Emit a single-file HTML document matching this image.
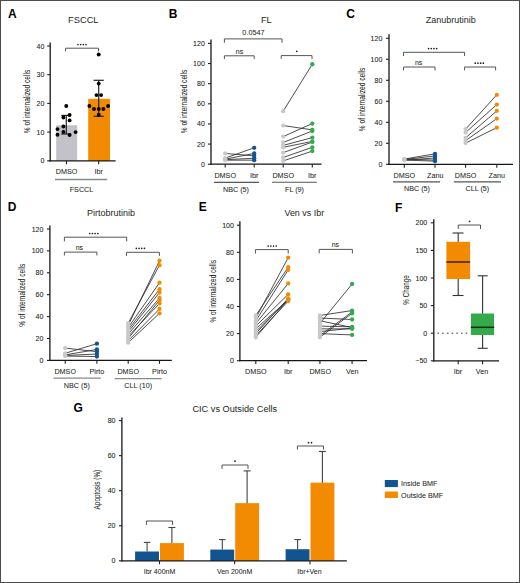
<!DOCTYPE html>
<html><head><meta charset="utf-8"><style>
html,body{margin:0;padding:0;background:#fff;}
body{width:520px;height:583px;overflow:hidden;position:relative;}
svg{position:absolute;left:0;top:0;font-family:"Liberation Sans", sans-serif;}
.frame{position:absolute;left:0;top:0;width:518px;height:581px;border:1px solid #4d4d4d;}
</style></head><body>
<svg width="520" height="583" viewBox="0 0 520 583">
<text transform="translate(8,18.3) scale(0.9259,1)" x="0" y="0" font-size="12.96" text-anchor="start" fill="#000" font-weight="bold">A</text>
<text transform="translate(83.3,23.1) scale(1.0000,1)" x="0" y="0" font-size="9.3" text-anchor="middle" fill="#231f20" font-weight="normal">FSCCL</text>
<text transform="translate(29.9,101.5) rotate(-90)" x="0" y="0" font-size="8.4" text-anchor="middle" fill="#231f20" font-weight="normal" stroke="#231f20" stroke-width="0.05" textLength="63.3" lengthAdjust="spacingAndGlyphs">% of internalized cells</text>
<rect x="56.2" y="125.21" width="21" height="35.59" fill="#c3c2c8"/>
<rect x="88.2" y="98.81" width="21.8" height="61.99" fill="#f38b02"/>
<line x1="50.2" y1="42.5" x2="50.2" y2="161.45" stroke="#161616" stroke-width="1.3" />
<line x1="47.2" y1="160.8" x2="50.2" y2="160.8" stroke="#231f20" stroke-width="1.1" />
<text transform="translate(44.4,163.3) scale(1.0000,1)" x="0" y="0" font-size="7" text-anchor="end" fill="#231f20" font-weight="normal" stroke="#231f20" stroke-width="0.08">0</text>
<line x1="47.2" y1="132.1" x2="50.2" y2="132.1" stroke="#231f20" stroke-width="1.1" />
<text transform="translate(44.4,134.6) scale(1.0000,1)" x="0" y="0" font-size="7" text-anchor="end" fill="#231f20" font-weight="normal" stroke="#231f20" stroke-width="0.08">10</text>
<line x1="47.2" y1="103.4" x2="50.2" y2="103.4" stroke="#231f20" stroke-width="1.1" />
<text transform="translate(44.4,105.9) scale(1.0000,1)" x="0" y="0" font-size="7" text-anchor="end" fill="#231f20" font-weight="normal" stroke="#231f20" stroke-width="0.08">20</text>
<line x1="47.2" y1="74.7" x2="50.2" y2="74.7" stroke="#231f20" stroke-width="1.1" />
<text transform="translate(44.4,77.2) scale(1.0000,1)" x="0" y="0" font-size="7" text-anchor="end" fill="#231f20" font-weight="normal" stroke="#231f20" stroke-width="0.08">30</text>
<line x1="47.2" y1="46" x2="50.2" y2="46" stroke="#231f20" stroke-width="1.1" />
<text transform="translate(44.4,48.5) scale(1.0000,1)" x="0" y="0" font-size="7" text-anchor="end" fill="#231f20" font-weight="normal" stroke="#231f20" stroke-width="0.08">40</text>
<line x1="49.55" y1="160.8" x2="115.6" y2="160.8" stroke="#161616" stroke-width="1.3" />
<line x1="66.5" y1="160.8" x2="66.5" y2="164.2" stroke="#231f20" stroke-width="1.1" />
<line x1="98.7" y1="160.8" x2="98.7" y2="164.2" stroke="#231f20" stroke-width="1.1" />
<line x1="66.3" y1="115.4" x2="66.3" y2="134" stroke="#222" stroke-width="1.2" />
<line x1="61.3" y1="115.4" x2="70.8" y2="115.4" stroke="#222" stroke-width="1.2" />
<line x1="61.3" y1="134" x2="70.8" y2="134" stroke="#222" stroke-width="1.2" />
<line x1="98.7" y1="80.3" x2="98.7" y2="116.3" stroke="#222" stroke-width="1.2" />
<line x1="93.5" y1="80.3" x2="103.8" y2="80.3" stroke="#222" stroke-width="1.2" />
<line x1="93.5" y1="116.3" x2="103.8" y2="116.3" stroke="#222" stroke-width="1.2" />
<circle cx="66.25" cy="106" r="1.95" fill="#000"/>
<circle cx="69.6" cy="115" r="1.95" fill="#000"/>
<circle cx="63.4" cy="117.5" r="1.95" fill="#000"/>
<circle cx="69.6" cy="120.4" r="1.95" fill="#000"/>
<circle cx="63.4" cy="126.5" r="1.95" fill="#000"/>
<circle cx="57.5" cy="129.1" r="1.95" fill="#000"/>
<circle cx="75.6" cy="132.1" r="1.95" fill="#000"/>
<circle cx="63.4" cy="131.9" r="1.95" fill="#000"/>
<circle cx="57.5" cy="134.75" r="1.95" fill="#000"/>
<circle cx="69.6" cy="135" r="1.95" fill="#000"/>
<circle cx="98.7" cy="54.5" r="1.95" fill="#000"/>
<circle cx="98.7" cy="83.6" r="1.95" fill="#000"/>
<circle cx="96.5" cy="95.1" r="1.95" fill="#000"/>
<circle cx="101.1" cy="95.1" r="1.95" fill="#000"/>
<circle cx="89.4" cy="106" r="1.95" fill="#000"/>
<circle cx="94" cy="109" r="1.95" fill="#000"/>
<circle cx="98.75" cy="109" r="1.95" fill="#000"/>
<circle cx="103.4" cy="109" r="1.95" fill="#000"/>
<circle cx="108.1" cy="106" r="1.95" fill="#000"/>
<circle cx="98.75" cy="114.75" r="1.95" fill="#000"/>
<path d="M65.6,51.4 V48.2 H98.5 V51.4" fill="none" stroke="#555" stroke-width="1"/>
<circle cx="77.95" cy="44.5" r="0.85" fill="#222"/>
<circle cx="80.65" cy="44.5" r="0.85" fill="#222"/>
<circle cx="83.35" cy="44.5" r="0.85" fill="#222"/>
<circle cx="86.05" cy="44.5" r="0.85" fill="#222"/>
<text transform="translate(66.5,174.3) scale(0.9524,1)" x="0" y="0" font-size="7.56" text-anchor="middle" fill="#231f20" font-weight="normal" stroke="#231f20" stroke-width="0.05">DMSO</text>
<text transform="translate(98.7,174.3) scale(0.9524,1)" x="0" y="0" font-size="7.56" text-anchor="middle" fill="#231f20" font-weight="normal" stroke="#231f20" stroke-width="0.05">Ibr</text>
<line x1="55" y1="179.5" x2="107.2" y2="179.5" stroke="#8a8a8a" stroke-width="1.3" />
<text transform="translate(81.5,191.8) scale(0.9524,1)" x="0" y="0" font-size="7.56" text-anchor="middle" fill="#231f20" font-weight="normal" stroke="#231f20" stroke-width="0.05">FSCCL</text>
<text transform="translate(168.8,18.3) scale(0.9259,1)" x="0" y="0" font-size="12.96" text-anchor="start" fill="#000" font-weight="bold">B</text>
<text transform="translate(266.3,22.6) scale(1.0000,1)" x="0" y="0" font-size="9.3" text-anchor="middle" fill="#231f20" font-weight="normal">FL</text>
<text transform="translate(186.5,101.5) rotate(-90)" x="0" y="0" font-size="8.4" text-anchor="middle" fill="#231f20" font-weight="normal" stroke="#231f20" stroke-width="0.05" textLength="63.5" lengthAdjust="spacingAndGlyphs">% of internalized cells</text>
<line x1="211" y1="39.4" x2="211" y2="164.85" stroke="#161616" stroke-width="1.3" />
<line x1="208" y1="164.2" x2="211" y2="164.2" stroke="#231f20" stroke-width="1.1" />
<text transform="translate(204.8,166.7) scale(1.0000,1)" x="0" y="0" font-size="7" text-anchor="end" fill="#231f20" font-weight="normal" stroke="#231f20" stroke-width="0.08">0</text>
<line x1="208" y1="144.07" x2="211" y2="144.07" stroke="#231f20" stroke-width="1.1" />
<text transform="translate(204.8,146.57) scale(1.0000,1)" x="0" y="0" font-size="7" text-anchor="end" fill="#231f20" font-weight="normal" stroke="#231f20" stroke-width="0.08">20</text>
<line x1="208" y1="123.93" x2="211" y2="123.93" stroke="#231f20" stroke-width="1.1" />
<text transform="translate(204.8,126.43) scale(1.0000,1)" x="0" y="0" font-size="7" text-anchor="end" fill="#231f20" font-weight="normal" stroke="#231f20" stroke-width="0.08">40</text>
<line x1="208" y1="103.8" x2="211" y2="103.8" stroke="#231f20" stroke-width="1.1" />
<text transform="translate(204.8,106.3) scale(1.0000,1)" x="0" y="0" font-size="7" text-anchor="end" fill="#231f20" font-weight="normal" stroke="#231f20" stroke-width="0.08">60</text>
<line x1="208" y1="83.66" x2="211" y2="83.66" stroke="#231f20" stroke-width="1.1" />
<text transform="translate(204.8,86.16) scale(1.0000,1)" x="0" y="0" font-size="7" text-anchor="end" fill="#231f20" font-weight="normal" stroke="#231f20" stroke-width="0.08">80</text>
<line x1="208" y1="63.53" x2="211" y2="63.53" stroke="#231f20" stroke-width="1.1" />
<text transform="translate(204.8,66.03) scale(1.0000,1)" x="0" y="0" font-size="7" text-anchor="end" fill="#231f20" font-weight="normal" stroke="#231f20" stroke-width="0.08">100</text>
<line x1="208" y1="43.4" x2="211" y2="43.4" stroke="#231f20" stroke-width="1.1" />
<text transform="translate(204.8,45.9) scale(1.0000,1)" x="0" y="0" font-size="7" text-anchor="end" fill="#231f20" font-weight="normal" stroke="#231f20" stroke-width="0.08">120</text>
<line x1="210.35" y1="164.2" x2="321.5" y2="164.2" stroke="#161616" stroke-width="1.3" />
<line x1="225.2" y1="164.2" x2="225.2" y2="167.6" stroke="#231f20" stroke-width="1.1" />
<line x1="254.2" y1="164.2" x2="254.2" y2="167.6" stroke="#231f20" stroke-width="1.1" />
<line x1="283.2" y1="164.2" x2="283.2" y2="167.6" stroke="#231f20" stroke-width="1.1" />
<line x1="312.3" y1="164.2" x2="312.3" y2="167.6" stroke="#231f20" stroke-width="1.1" />
<line x1="225.2" y1="153.43" x2="254.2" y2="155.84" stroke="#2e2e2e" stroke-width="0.85" />
<line x1="225.2" y1="158.16" x2="254.2" y2="147.79" stroke="#2e2e2e" stroke-width="0.85" />
<line x1="225.2" y1="159.17" x2="254.2" y2="153.43" stroke="#2e2e2e" stroke-width="0.85" />
<line x1="225.2" y1="159.67" x2="254.2" y2="158.26" stroke="#2e2e2e" stroke-width="0.85" />
<line x1="225.2" y1="160.17" x2="254.2" y2="160.17" stroke="#2e2e2e" stroke-width="0.85" />
<circle cx="225.2" cy="153.43" r="2.15" fill="#c8c8ca"/>
<circle cx="225.2" cy="158.16" r="2.15" fill="#c8c8ca"/>
<circle cx="225.2" cy="159.17" r="2.15" fill="#c8c8ca"/>
<circle cx="225.2" cy="159.67" r="2.15" fill="#c8c8ca"/>
<circle cx="225.2" cy="160.17" r="2.15" fill="#c8c8ca"/>
<circle cx="254.2" cy="155.84" r="2.15" fill="#12548f"/>
<circle cx="254.2" cy="147.79" r="2.15" fill="#12548f"/>
<circle cx="254.2" cy="153.43" r="2.15" fill="#12548f"/>
<circle cx="254.2" cy="158.26" r="2.15" fill="#12548f"/>
<circle cx="254.2" cy="160.17" r="2.15" fill="#12548f"/>
<line x1="283.2" y1="111.15" x2="312.3" y2="64.23" stroke="#2e2e2e" stroke-width="0.85" />
<line x1="283.2" y1="125.54" x2="312.3" y2="129.87" stroke="#2e2e2e" stroke-width="0.85" />
<line x1="283.2" y1="136.62" x2="312.3" y2="123.53" stroke="#2e2e2e" stroke-width="0.85" />
<line x1="283.2" y1="142.46" x2="312.3" y2="130.98" stroke="#2e2e2e" stroke-width="0.85" />
<line x1="283.2" y1="145.37" x2="312.3" y2="137.62" stroke="#2e2e2e" stroke-width="0.85" />
<line x1="283.2" y1="147.29" x2="312.3" y2="141.45" stroke="#2e2e2e" stroke-width="0.85" />
<line x1="283.2" y1="152.62" x2="312.3" y2="142.05" stroke="#2e2e2e" stroke-width="0.85" />
<line x1="283.2" y1="157.46" x2="312.3" y2="147.29" stroke="#2e2e2e" stroke-width="0.85" />
<line x1="283.2" y1="160.88" x2="312.3" y2="151.11" stroke="#2e2e2e" stroke-width="0.85" />
<circle cx="283.2" cy="111.15" r="2.15" fill="#c8c8ca"/>
<circle cx="283.2" cy="125.54" r="2.15" fill="#c8c8ca"/>
<circle cx="283.2" cy="136.62" r="2.15" fill="#c8c8ca"/>
<circle cx="283.2" cy="142.46" r="2.15" fill="#c8c8ca"/>
<circle cx="283.2" cy="145.37" r="2.15" fill="#c8c8ca"/>
<circle cx="283.2" cy="147.29" r="2.15" fill="#c8c8ca"/>
<circle cx="283.2" cy="152.62" r="2.15" fill="#c8c8ca"/>
<circle cx="283.2" cy="157.46" r="2.15" fill="#c8c8ca"/>
<circle cx="283.2" cy="160.88" r="2.15" fill="#c8c8ca"/>
<circle cx="312.3" cy="64.23" r="2.15" fill="#34aa4a"/>
<circle cx="312.3" cy="129.87" r="2.15" fill="#34aa4a"/>
<circle cx="312.3" cy="123.53" r="2.15" fill="#34aa4a"/>
<circle cx="312.3" cy="130.98" r="2.15" fill="#34aa4a"/>
<circle cx="312.3" cy="137.62" r="2.15" fill="#34aa4a"/>
<circle cx="312.3" cy="141.45" r="2.15" fill="#34aa4a"/>
<circle cx="312.3" cy="142.05" r="2.15" fill="#34aa4a"/>
<circle cx="312.3" cy="147.29" r="2.15" fill="#34aa4a"/>
<circle cx="312.3" cy="151.11" r="2.15" fill="#34aa4a"/>
<path d="M224.4,42.8 V38.9 H282 V42.8" fill="none" stroke="#555" stroke-width="1"/>
<text transform="translate(253.5,34.7) scale(0.9524,1)" x="0" y="0" font-size="7.67" text-anchor="middle" fill="#231f20" font-weight="normal" stroke="#231f20" stroke-width="0.05">0.0547</text>
<path d="M224.4,59 V55.8 H254.2 V59" fill="none" stroke="#555" stroke-width="1"/>
<text transform="translate(239.5,53.6) scale(0.9524,1)" x="0" y="0" font-size="7.35" text-anchor="middle" fill="#231f20" font-weight="normal" stroke="#231f20" stroke-width="0.05">ns</text>
<path d="M281.2,58.9 V55.6 H312 V58.9" fill="none" stroke="#555" stroke-width="1"/>
<circle cx="296.8" cy="51.3" r="0.85" fill="#222"/>
<text transform="translate(225.2,177.7) scale(0.9524,1)" x="0" y="0" font-size="7.56" text-anchor="middle" fill="#231f20" font-weight="normal" stroke="#231f20" stroke-width="0.05">DMSO</text>
<text transform="translate(254.2,177.7) scale(0.9524,1)" x="0" y="0" font-size="7.56" text-anchor="middle" fill="#231f20" font-weight="normal" stroke="#231f20" stroke-width="0.05">Ibr</text>
<text transform="translate(283.2,177.7) scale(0.9524,1)" x="0" y="0" font-size="7.56" text-anchor="middle" fill="#231f20" font-weight="normal" stroke="#231f20" stroke-width="0.05">DMSO</text>
<text transform="translate(312.3,177.7) scale(0.9524,1)" x="0" y="0" font-size="7.56" text-anchor="middle" fill="#231f20" font-weight="normal" stroke="#231f20" stroke-width="0.05">Ibr</text>
<line x1="214" y1="182.4" x2="259" y2="182.4" stroke="#555" stroke-width="1.1" />
<line x1="272" y1="182.3" x2="316.8" y2="182.3" stroke="#555" stroke-width="1.1" />
<text transform="translate(236,192.2) scale(0.9524,1)" x="0" y="0" font-size="7.56" text-anchor="middle" fill="#231f20" font-weight="normal" stroke="#231f20" stroke-width="0.05">NBC (5)</text>
<text transform="translate(294.5,192) scale(0.9524,1)" x="0" y="0" font-size="7.56" text-anchor="middle" fill="#231f20" font-weight="normal" stroke="#231f20" stroke-width="0.05">FL (9)</text>
<text transform="translate(346.3,18.3) scale(0.9259,1)" x="0" y="0" font-size="12.96" text-anchor="start" fill="#000" font-weight="bold">C</text>
<text transform="translate(450.8,23.4) scale(1.0000,1)" x="0" y="0" font-size="9" text-anchor="middle" fill="#231f20" font-weight="normal">Zanubrutinib</text>
<text transform="translate(364.7,99.4) rotate(-90)" x="0" y="0" font-size="8.4" text-anchor="middle" fill="#231f20" font-weight="normal" stroke="#231f20" stroke-width="0.05" textLength="63.5" lengthAdjust="spacingAndGlyphs">% of internalized cells</text>
<line x1="389" y1="34.3" x2="389" y2="164.95" stroke="#161616" stroke-width="1.3" />
<line x1="386" y1="164.3" x2="389" y2="164.3" stroke="#231f20" stroke-width="1.1" />
<text transform="translate(382.3,166.8) scale(1.0000,1)" x="0" y="0" font-size="7" text-anchor="end" fill="#231f20" font-weight="normal" stroke="#231f20" stroke-width="0.08">0</text>
<line x1="386" y1="143.3" x2="389" y2="143.3" stroke="#231f20" stroke-width="1.1" />
<text transform="translate(382.3,145.8) scale(1.0000,1)" x="0" y="0" font-size="7" text-anchor="end" fill="#231f20" font-weight="normal" stroke="#231f20" stroke-width="0.08">20</text>
<line x1="386" y1="122.3" x2="389" y2="122.3" stroke="#231f20" stroke-width="1.1" />
<text transform="translate(382.3,124.8) scale(1.0000,1)" x="0" y="0" font-size="7" text-anchor="end" fill="#231f20" font-weight="normal" stroke="#231f20" stroke-width="0.08">40</text>
<line x1="386" y1="101.3" x2="389" y2="101.3" stroke="#231f20" stroke-width="1.1" />
<text transform="translate(382.3,103.8) scale(1.0000,1)" x="0" y="0" font-size="7" text-anchor="end" fill="#231f20" font-weight="normal" stroke="#231f20" stroke-width="0.08">60</text>
<line x1="386" y1="80.3" x2="389" y2="80.3" stroke="#231f20" stroke-width="1.1" />
<text transform="translate(382.3,82.8) scale(1.0000,1)" x="0" y="0" font-size="7" text-anchor="end" fill="#231f20" font-weight="normal" stroke="#231f20" stroke-width="0.08">80</text>
<line x1="386" y1="59.3" x2="389" y2="59.3" stroke="#231f20" stroke-width="1.1" />
<text transform="translate(382.3,61.8) scale(1.0000,1)" x="0" y="0" font-size="7" text-anchor="end" fill="#231f20" font-weight="normal" stroke="#231f20" stroke-width="0.08">100</text>
<line x1="386" y1="38.3" x2="389" y2="38.3" stroke="#231f20" stroke-width="1.1" />
<text transform="translate(382.3,40.8) scale(1.0000,1)" x="0" y="0" font-size="7" text-anchor="end" fill="#231f20" font-weight="normal" stroke="#231f20" stroke-width="0.08">120</text>
<line x1="388.35" y1="164.3" x2="513" y2="164.3" stroke="#161616" stroke-width="1.3" />
<line x1="404.3" y1="164.3" x2="404.3" y2="167.7" stroke="#231f20" stroke-width="1.1" />
<line x1="435" y1="164.3" x2="435" y2="167.7" stroke="#231f20" stroke-width="1.1" />
<line x1="465.6" y1="164.3" x2="465.6" y2="167.7" stroke="#231f20" stroke-width="1.1" />
<line x1="496.8" y1="164.3" x2="496.8" y2="167.7" stroke="#231f20" stroke-width="1.1" />
<line x1="404.3" y1="159.05" x2="435" y2="153.8" stroke="#2e2e2e" stroke-width="0.85" />
<line x1="404.3" y1="159.58" x2="435" y2="155.9" stroke="#2e2e2e" stroke-width="0.85" />
<line x1="404.3" y1="160.1" x2="435" y2="158" stroke="#2e2e2e" stroke-width="0.85" />
<line x1="404.3" y1="159.05" x2="435" y2="160.1" stroke="#2e2e2e" stroke-width="0.85" />
<line x1="404.3" y1="160.1" x2="435" y2="161.15" stroke="#2e2e2e" stroke-width="0.85" />
<circle cx="404.3" cy="159.05" r="2.15" fill="#c8c8ca"/>
<circle cx="404.3" cy="159.58" r="2.15" fill="#c8c8ca"/>
<circle cx="404.3" cy="160.1" r="2.15" fill="#c8c8ca"/>
<circle cx="404.3" cy="159.05" r="2.15" fill="#c8c8ca"/>
<circle cx="404.3" cy="160.1" r="2.15" fill="#c8c8ca"/>
<circle cx="435" cy="153.8" r="2.15" fill="#12548f"/>
<circle cx="435" cy="155.9" r="2.15" fill="#12548f"/>
<circle cx="435" cy="158" r="2.15" fill="#12548f"/>
<circle cx="435" cy="160.1" r="2.15" fill="#12548f"/>
<circle cx="435" cy="161.15" r="2.15" fill="#12548f"/>
<line x1="465.6" y1="129.12" x2="496.8" y2="94.79" stroke="#2e2e2e" stroke-width="0.85" />
<line x1="465.6" y1="132.49" x2="496.8" y2="104.56" stroke="#2e2e2e" stroke-width="0.85" />
<line x1="465.6" y1="137.84" x2="496.8" y2="110.86" stroke="#2e2e2e" stroke-width="0.85" />
<line x1="465.6" y1="140.68" x2="496.8" y2="118.62" stroke="#2e2e2e" stroke-width="0.85" />
<line x1="465.6" y1="143.09" x2="496.8" y2="127.66" stroke="#2e2e2e" stroke-width="0.85" />
<circle cx="465.6" cy="129.12" r="2.15" fill="#c8c8ca"/>
<circle cx="465.6" cy="132.49" r="2.15" fill="#c8c8ca"/>
<circle cx="465.6" cy="137.84" r="2.15" fill="#c8c8ca"/>
<circle cx="465.6" cy="140.68" r="2.15" fill="#c8c8ca"/>
<circle cx="465.6" cy="143.09" r="2.15" fill="#c8c8ca"/>
<circle cx="496.8" cy="94.79" r="2.15" fill="#f38b02"/>
<circle cx="496.8" cy="104.56" r="2.15" fill="#f38b02"/>
<circle cx="496.8" cy="110.86" r="2.15" fill="#f38b02"/>
<circle cx="496.8" cy="118.62" r="2.15" fill="#f38b02"/>
<circle cx="496.8" cy="127.66" r="2.15" fill="#f38b02"/>
<path d="M403.5,56 V52.3 H464.6 V56" fill="none" stroke="#555" stroke-width="1"/>
<circle cx="428.55" cy="48.6" r="0.85" fill="#222"/>
<circle cx="431.25" cy="48.6" r="0.85" fill="#222"/>
<circle cx="433.95" cy="48.6" r="0.85" fill="#222"/>
<circle cx="436.65" cy="48.6" r="0.85" fill="#222"/>
<path d="M403.5,70.4 V67 H435 V70.4" fill="none" stroke="#555" stroke-width="1"/>
<text transform="translate(418.6,65) scale(0.9524,1)" x="0" y="0" font-size="7.35" text-anchor="middle" fill="#231f20" font-weight="normal" stroke="#231f20" stroke-width="0.05">ns</text>
<path d="M464.6,70.4 V67 H495.6 V70.4" fill="none" stroke="#555" stroke-width="1"/>
<circle cx="475.25" cy="63.2" r="0.85" fill="#222"/>
<circle cx="477.95" cy="63.2" r="0.85" fill="#222"/>
<circle cx="480.65" cy="63.2" r="0.85" fill="#222"/>
<circle cx="483.35" cy="63.2" r="0.85" fill="#222"/>
<text transform="translate(404.3,178) scale(0.9524,1)" x="0" y="0" font-size="7.56" text-anchor="middle" fill="#231f20" font-weight="normal" stroke="#231f20" stroke-width="0.05">DMSO</text>
<text transform="translate(435.3,178) scale(0.9524,1)" x="0" y="0" font-size="7.56" text-anchor="middle" fill="#231f20" font-weight="normal" stroke="#231f20" stroke-width="0.05">Zanu</text>
<text transform="translate(465.6,178) scale(0.9524,1)" x="0" y="0" font-size="7.56" text-anchor="middle" fill="#231f20" font-weight="normal" stroke="#231f20" stroke-width="0.05">DMSO</text>
<text transform="translate(496.8,178) scale(0.9524,1)" x="0" y="0" font-size="7.56" text-anchor="middle" fill="#231f20" font-weight="normal" stroke="#231f20" stroke-width="0.05">Zanu</text>
<line x1="393" y1="181.9" x2="440" y2="181.9" stroke="#555" stroke-width="1.1" />
<line x1="453.8" y1="181.9" x2="501" y2="181.9" stroke="#555" stroke-width="1.1" />
<text transform="translate(417,191.2) scale(0.9524,1)" x="0" y="0" font-size="7.56" text-anchor="middle" fill="#231f20" font-weight="normal" stroke="#231f20" stroke-width="0.05">NBC (5)</text>
<text transform="translate(477.4,191.2) scale(0.9524,1)" x="0" y="0" font-size="7.56" text-anchor="middle" fill="#231f20" font-weight="normal" stroke="#231f20" stroke-width="0.05">CLL (5)</text>
<text transform="translate(7.7,211.3) scale(0.9259,1)" x="0" y="0" font-size="12.96" text-anchor="start" fill="#000" font-weight="bold">D</text>
<text transform="translate(111,216.3) scale(1.0000,1)" x="0" y="0" font-size="9" text-anchor="middle" fill="#231f20" font-weight="normal">Pirtobrutinib</text>
<text transform="translate(25.2,295.2) rotate(-90)" x="0" y="0" font-size="8.4" text-anchor="middle" fill="#231f20" font-weight="normal" stroke="#231f20" stroke-width="0.05" textLength="63" lengthAdjust="spacingAndGlyphs">% of internalized cells</text>
<line x1="49.9" y1="225.6" x2="49.9" y2="361.05" stroke="#161616" stroke-width="1.3" />
<line x1="46.9" y1="360.4" x2="49.9" y2="360.4" stroke="#231f20" stroke-width="1.1" />
<text transform="translate(43.4,362.9) scale(1.0000,1)" x="0" y="0" font-size="7" text-anchor="end" fill="#231f20" font-weight="normal" stroke="#231f20" stroke-width="0.08">0</text>
<line x1="46.9" y1="338.5" x2="49.9" y2="338.5" stroke="#231f20" stroke-width="1.1" />
<text transform="translate(43.4,341) scale(1.0000,1)" x="0" y="0" font-size="7" text-anchor="end" fill="#231f20" font-weight="normal" stroke="#231f20" stroke-width="0.08">20</text>
<line x1="46.9" y1="316.6" x2="49.9" y2="316.6" stroke="#231f20" stroke-width="1.1" />
<text transform="translate(43.4,319.1) scale(1.0000,1)" x="0" y="0" font-size="7" text-anchor="end" fill="#231f20" font-weight="normal" stroke="#231f20" stroke-width="0.08">40</text>
<line x1="46.9" y1="294.7" x2="49.9" y2="294.7" stroke="#231f20" stroke-width="1.1" />
<text transform="translate(43.4,297.2) scale(1.0000,1)" x="0" y="0" font-size="7" text-anchor="end" fill="#231f20" font-weight="normal" stroke="#231f20" stroke-width="0.08">60</text>
<line x1="46.9" y1="272.8" x2="49.9" y2="272.8" stroke="#231f20" stroke-width="1.1" />
<text transform="translate(43.4,275.3) scale(1.0000,1)" x="0" y="0" font-size="7" text-anchor="end" fill="#231f20" font-weight="normal" stroke="#231f20" stroke-width="0.08">80</text>
<line x1="46.9" y1="250.9" x2="49.9" y2="250.9" stroke="#231f20" stroke-width="1.1" />
<text transform="translate(43.4,253.4) scale(1.0000,1)" x="0" y="0" font-size="7" text-anchor="end" fill="#231f20" font-weight="normal" stroke="#231f20" stroke-width="0.08">100</text>
<line x1="46.9" y1="229" x2="49.9" y2="229" stroke="#231f20" stroke-width="1.1" />
<text transform="translate(43.4,231.5) scale(1.0000,1)" x="0" y="0" font-size="7" text-anchor="end" fill="#231f20" font-weight="normal" stroke="#231f20" stroke-width="0.08">120</text>
<line x1="49.25" y1="360.4" x2="171.8" y2="360.4" stroke="#161616" stroke-width="1.3" />
<line x1="65.2" y1="360.4" x2="65.2" y2="363.8" stroke="#231f20" stroke-width="1.1" />
<line x1="96.9" y1="360.4" x2="96.9" y2="363.8" stroke="#231f20" stroke-width="1.1" />
<line x1="128.2" y1="360.4" x2="128.2" y2="363.8" stroke="#231f20" stroke-width="1.1" />
<line x1="159.5" y1="360.4" x2="159.5" y2="363.8" stroke="#231f20" stroke-width="1.1" />
<line x1="65.2" y1="348.14" x2="96.9" y2="351.64" stroke="#2e2e2e" stroke-width="0.85" />
<line x1="65.2" y1="353.28" x2="96.9" y2="343.65" stroke="#2e2e2e" stroke-width="0.85" />
<line x1="65.2" y1="354.92" x2="96.9" y2="349.45" stroke="#2e2e2e" stroke-width="0.85" />
<line x1="65.2" y1="355.47" x2="96.9" y2="354.05" stroke="#2e2e2e" stroke-width="0.85" />
<line x1="65.2" y1="356.02" x2="96.9" y2="356.57" stroke="#2e2e2e" stroke-width="0.85" />
<circle cx="65.2" cy="348.14" r="2.15" fill="#c8c8ca"/>
<circle cx="65.2" cy="353.28" r="2.15" fill="#c8c8ca"/>
<circle cx="65.2" cy="354.92" r="2.15" fill="#c8c8ca"/>
<circle cx="65.2" cy="355.47" r="2.15" fill="#c8c8ca"/>
<circle cx="65.2" cy="356.02" r="2.15" fill="#c8c8ca"/>
<circle cx="96.9" cy="351.64" r="2.15" fill="#12548f"/>
<circle cx="96.9" cy="343.65" r="2.15" fill="#12548f"/>
<circle cx="96.9" cy="349.45" r="2.15" fill="#12548f"/>
<circle cx="96.9" cy="354.05" r="2.15" fill="#12548f"/>
<circle cx="96.9" cy="356.57" r="2.15" fill="#12548f"/>
<line x1="128.2" y1="325.36" x2="159.5" y2="260.75" stroke="#2e2e2e" stroke-width="0.85" />
<line x1="128.2" y1="323.17" x2="159.5" y2="265.13" stroke="#2e2e2e" stroke-width="0.85" />
<line x1="128.2" y1="327.55" x2="159.5" y2="282.65" stroke="#2e2e2e" stroke-width="0.85" />
<line x1="128.2" y1="329.74" x2="159.5" y2="289.22" stroke="#2e2e2e" stroke-width="0.85" />
<line x1="128.2" y1="331.93" x2="159.5" y2="292.51" stroke="#2e2e2e" stroke-width="0.85" />
<line x1="128.2" y1="334.12" x2="159.5" y2="297.98" stroke="#2e2e2e" stroke-width="0.85" />
<line x1="128.2" y1="336.31" x2="159.5" y2="303.46" stroke="#2e2e2e" stroke-width="0.85" />
<line x1="128.2" y1="338.5" x2="159.5" y2="300.17" stroke="#2e2e2e" stroke-width="0.85" />
<line x1="128.2" y1="340.69" x2="159.5" y2="308.94" stroke="#2e2e2e" stroke-width="0.85" />
<line x1="128.2" y1="342.66" x2="159.5" y2="313.31" stroke="#2e2e2e" stroke-width="0.85" />
<circle cx="128.2" cy="325.36" r="2.15" fill="#c8c8ca"/>
<circle cx="128.2" cy="323.17" r="2.15" fill="#c8c8ca"/>
<circle cx="128.2" cy="327.55" r="2.15" fill="#c8c8ca"/>
<circle cx="128.2" cy="329.74" r="2.15" fill="#c8c8ca"/>
<circle cx="128.2" cy="331.93" r="2.15" fill="#c8c8ca"/>
<circle cx="128.2" cy="334.12" r="2.15" fill="#c8c8ca"/>
<circle cx="128.2" cy="336.31" r="2.15" fill="#c8c8ca"/>
<circle cx="128.2" cy="338.5" r="2.15" fill="#c8c8ca"/>
<circle cx="128.2" cy="340.69" r="2.15" fill="#c8c8ca"/>
<circle cx="128.2" cy="342.66" r="2.15" fill="#c8c8ca"/>
<circle cx="159.5" cy="260.75" r="2.15" fill="#f38b02"/>
<circle cx="159.5" cy="265.13" r="2.15" fill="#f38b02"/>
<circle cx="159.5" cy="282.65" r="2.15" fill="#f38b02"/>
<circle cx="159.5" cy="289.22" r="2.15" fill="#f38b02"/>
<circle cx="159.5" cy="292.51" r="2.15" fill="#f38b02"/>
<circle cx="159.5" cy="297.98" r="2.15" fill="#f38b02"/>
<circle cx="159.5" cy="303.46" r="2.15" fill="#f38b02"/>
<circle cx="159.5" cy="300.17" r="2.15" fill="#f38b02"/>
<circle cx="159.5" cy="308.94" r="2.15" fill="#f38b02"/>
<circle cx="159.5" cy="313.31" r="2.15" fill="#f38b02"/>
<path d="M64.4,241.4 V237.2 H126.7 V241.4" fill="none" stroke="#555" stroke-width="1"/>
<circle cx="89.75" cy="233.5" r="0.85" fill="#222"/>
<circle cx="92.45" cy="233.5" r="0.85" fill="#222"/>
<circle cx="95.15" cy="233.5" r="0.85" fill="#222"/>
<circle cx="97.85" cy="233.5" r="0.85" fill="#222"/>
<path d="M64.4,255.5 V252.1 H96.9 V255.5" fill="none" stroke="#555" stroke-width="1"/>
<text transform="translate(79.4,250.2) scale(0.9524,1)" x="0" y="0" font-size="7.35" text-anchor="middle" fill="#231f20" font-weight="normal" stroke="#231f20" stroke-width="0.05">ns</text>
<path d="M126.5,255.9 V252.3 H159.4 V255.9" fill="none" stroke="#555" stroke-width="1"/>
<circle cx="136.35" cy="248.3" r="0.85" fill="#222"/>
<circle cx="139.05" cy="248.3" r="0.85" fill="#222"/>
<circle cx="141.75" cy="248.3" r="0.85" fill="#222"/>
<circle cx="144.45" cy="248.3" r="0.85" fill="#222"/>
<text transform="translate(65.2,373.9) scale(0.9524,1)" x="0" y="0" font-size="7.56" text-anchor="middle" fill="#231f20" font-weight="normal" stroke="#231f20" stroke-width="0.05">DMSO</text>
<text transform="translate(96.9,373.9) scale(0.9524,1)" x="0" y="0" font-size="7.56" text-anchor="middle" fill="#231f20" font-weight="normal" stroke="#231f20" stroke-width="0.05">Pirto</text>
<text transform="translate(128.2,373.9) scale(0.9524,1)" x="0" y="0" font-size="7.56" text-anchor="middle" fill="#231f20" font-weight="normal" stroke="#231f20" stroke-width="0.05">DMSO</text>
<text transform="translate(159.5,373.9) scale(0.9524,1)" x="0" y="0" font-size="7.56" text-anchor="middle" fill="#231f20" font-weight="normal" stroke="#231f20" stroke-width="0.05">Pirto</text>
<line x1="53.5" y1="378.1" x2="100.8" y2="378.1" stroke="#8a8a8a" stroke-width="1.2" />
<line x1="114.6" y1="378.6" x2="161.7" y2="378.6" stroke="#8a8a8a" stroke-width="1.2" />
<text transform="translate(76.8,388.1) scale(0.9524,1)" x="0" y="0" font-size="7.56" text-anchor="middle" fill="#231f20" font-weight="normal" stroke="#231f20" stroke-width="0.05">NBC (5)</text>
<text transform="translate(138.2,388.1) scale(0.9524,1)" x="0" y="0" font-size="7.56" text-anchor="middle" fill="#231f20" font-weight="normal" stroke="#231f20" stroke-width="0.05">CLL (10)</text>
<text transform="translate(198.7,211.3) scale(0.9259,1)" x="0" y="0" font-size="12.96" text-anchor="start" fill="#000" font-weight="bold">E</text>
<text transform="translate(304.3,215.7) scale(1.0000,1)" x="0" y="0" font-size="8.95" text-anchor="middle" fill="#231f20" font-weight="normal">Ven vs Ibr</text>
<text transform="translate(216,291.3) rotate(-90)" x="0" y="0" font-size="8.4" text-anchor="middle" fill="#231f20" font-weight="normal" stroke="#231f20" stroke-width="0.05" textLength="62.5" lengthAdjust="spacingAndGlyphs">% of internalized cells</text>
<line x1="239.9" y1="221.2" x2="239.9" y2="361.35" stroke="#161616" stroke-width="1.3" />
<line x1="236.9" y1="360.7" x2="239.9" y2="360.7" stroke="#231f20" stroke-width="1.1" />
<text transform="translate(233.9,363.2) scale(1.0000,1)" x="0" y="0" font-size="7" text-anchor="end" fill="#231f20" font-weight="normal" stroke="#231f20" stroke-width="0.08">0</text>
<line x1="236.9" y1="333.6" x2="239.9" y2="333.6" stroke="#231f20" stroke-width="1.1" />
<text transform="translate(233.9,336.1) scale(1.0000,1)" x="0" y="0" font-size="7" text-anchor="end" fill="#231f20" font-weight="normal" stroke="#231f20" stroke-width="0.08">20</text>
<line x1="236.9" y1="306.5" x2="239.9" y2="306.5" stroke="#231f20" stroke-width="1.1" />
<text transform="translate(233.9,309) scale(1.0000,1)" x="0" y="0" font-size="7" text-anchor="end" fill="#231f20" font-weight="normal" stroke="#231f20" stroke-width="0.08">40</text>
<line x1="236.9" y1="279.4" x2="239.9" y2="279.4" stroke="#231f20" stroke-width="1.1" />
<text transform="translate(233.9,281.9) scale(1.0000,1)" x="0" y="0" font-size="7" text-anchor="end" fill="#231f20" font-weight="normal" stroke="#231f20" stroke-width="0.08">60</text>
<line x1="236.9" y1="252.3" x2="239.9" y2="252.3" stroke="#231f20" stroke-width="1.1" />
<text transform="translate(233.9,254.8) scale(1.0000,1)" x="0" y="0" font-size="7" text-anchor="end" fill="#231f20" font-weight="normal" stroke="#231f20" stroke-width="0.08">80</text>
<line x1="236.9" y1="225.2" x2="239.9" y2="225.2" stroke="#231f20" stroke-width="1.1" />
<text transform="translate(233.9,227.7) scale(1.0000,1)" x="0" y="0" font-size="7" text-anchor="end" fill="#231f20" font-weight="normal" stroke="#231f20" stroke-width="0.08">100</text>
<line x1="239.25" y1="360.7" x2="367" y2="360.7" stroke="#161616" stroke-width="1.3" />
<line x1="255.8" y1="360.7" x2="255.8" y2="364.1" stroke="#231f20" stroke-width="1.1" />
<line x1="288.2" y1="360.7" x2="288.2" y2="364.1" stroke="#231f20" stroke-width="1.1" />
<line x1="319.9" y1="360.7" x2="319.9" y2="364.1" stroke="#231f20" stroke-width="1.1" />
<line x1="352.1" y1="360.7" x2="352.1" y2="364.1" stroke="#231f20" stroke-width="1.1" />
<line x1="255.8" y1="318.02" x2="288.2" y2="257.72" stroke="#2e2e2e" stroke-width="0.85" />
<line x1="255.8" y1="315.44" x2="288.2" y2="267.2" stroke="#2e2e2e" stroke-width="0.85" />
<line x1="255.8" y1="320.73" x2="288.2" y2="269.91" stroke="#2e2e2e" stroke-width="0.85" />
<line x1="255.8" y1="323.44" x2="288.2" y2="283.46" stroke="#2e2e2e" stroke-width="0.85" />
<line x1="255.8" y1="326.15" x2="288.2" y2="294.31" stroke="#2e2e2e" stroke-width="0.85" />
<line x1="255.8" y1="328.86" x2="288.2" y2="299.72" stroke="#2e2e2e" stroke-width="0.85" />
<line x1="255.8" y1="331.57" x2="288.2" y2="299.72" stroke="#2e2e2e" stroke-width="0.85" />
<line x1="255.8" y1="333.6" x2="288.2" y2="298.37" stroke="#2e2e2e" stroke-width="0.85" />
<line x1="255.8" y1="335.63" x2="288.2" y2="301.08" stroke="#2e2e2e" stroke-width="0.85" />
<line x1="255.8" y1="337.26" x2="288.2" y2="299.72" stroke="#2e2e2e" stroke-width="0.85" />
<circle cx="255.8" cy="318.02" r="2.15" fill="#c8c8ca"/>
<circle cx="255.8" cy="315.44" r="2.15" fill="#c8c8ca"/>
<circle cx="255.8" cy="320.73" r="2.15" fill="#c8c8ca"/>
<circle cx="255.8" cy="323.44" r="2.15" fill="#c8c8ca"/>
<circle cx="255.8" cy="326.15" r="2.15" fill="#c8c8ca"/>
<circle cx="255.8" cy="328.86" r="2.15" fill="#c8c8ca"/>
<circle cx="255.8" cy="331.57" r="2.15" fill="#c8c8ca"/>
<circle cx="255.8" cy="333.6" r="2.15" fill="#c8c8ca"/>
<circle cx="255.8" cy="335.63" r="2.15" fill="#c8c8ca"/>
<circle cx="255.8" cy="337.26" r="2.15" fill="#c8c8ca"/>
<circle cx="288.2" cy="257.72" r="2.15" fill="#f38b02"/>
<circle cx="288.2" cy="267.2" r="2.15" fill="#f38b02"/>
<circle cx="288.2" cy="269.91" r="2.15" fill="#f38b02"/>
<circle cx="288.2" cy="283.46" r="2.15" fill="#f38b02"/>
<circle cx="288.2" cy="294.31" r="2.15" fill="#f38b02"/>
<circle cx="288.2" cy="299.72" r="2.15" fill="#f38b02"/>
<circle cx="288.2" cy="299.72" r="2.15" fill="#f38b02"/>
<circle cx="288.2" cy="298.37" r="2.15" fill="#f38b02"/>
<circle cx="288.2" cy="301.08" r="2.15" fill="#f38b02"/>
<circle cx="288.2" cy="299.72" r="2.15" fill="#f38b02"/>
<line x1="319.9" y1="323.44" x2="352.1" y2="284.01" stroke="#2e2e2e" stroke-width="0.85" />
<line x1="319.9" y1="315.44" x2="352.1" y2="310.56" stroke="#2e2e2e" stroke-width="0.85" />
<line x1="319.9" y1="337.26" x2="352.1" y2="313.27" stroke="#2e2e2e" stroke-width="0.85" />
<line x1="319.9" y1="318.02" x2="352.1" y2="319.51" stroke="#2e2e2e" stroke-width="0.85" />
<line x1="319.9" y1="320.73" x2="352.1" y2="327.5" stroke="#2e2e2e" stroke-width="0.85" />
<line x1="319.9" y1="326.15" x2="352.1" y2="326.82" stroke="#2e2e2e" stroke-width="0.85" />
<line x1="319.9" y1="328.86" x2="352.1" y2="328.86" stroke="#2e2e2e" stroke-width="0.85" />
<line x1="319.9" y1="331.57" x2="352.1" y2="328.18" stroke="#2e2e2e" stroke-width="0.85" />
<line x1="319.9" y1="333.6" x2="352.1" y2="334.95" stroke="#2e2e2e" stroke-width="0.85" />
<line x1="319.9" y1="335.63" x2="352.1" y2="311.92" stroke="#2e2e2e" stroke-width="0.85" />
<circle cx="319.9" cy="323.44" r="2.15" fill="#c8c8ca"/>
<circle cx="319.9" cy="315.44" r="2.15" fill="#c8c8ca"/>
<circle cx="319.9" cy="337.26" r="2.15" fill="#c8c8ca"/>
<circle cx="319.9" cy="318.02" r="2.15" fill="#c8c8ca"/>
<circle cx="319.9" cy="320.73" r="2.15" fill="#c8c8ca"/>
<circle cx="319.9" cy="326.15" r="2.15" fill="#c8c8ca"/>
<circle cx="319.9" cy="328.86" r="2.15" fill="#c8c8ca"/>
<circle cx="319.9" cy="331.57" r="2.15" fill="#c8c8ca"/>
<circle cx="319.9" cy="333.6" r="2.15" fill="#c8c8ca"/>
<circle cx="319.9" cy="335.63" r="2.15" fill="#c8c8ca"/>
<circle cx="352.1" cy="284.01" r="2.15" fill="#34aa4a"/>
<circle cx="352.1" cy="310.56" r="2.15" fill="#34aa4a"/>
<circle cx="352.1" cy="313.27" r="2.15" fill="#34aa4a"/>
<circle cx="352.1" cy="319.51" r="2.15" fill="#34aa4a"/>
<circle cx="352.1" cy="327.5" r="2.15" fill="#34aa4a"/>
<circle cx="352.1" cy="326.82" r="2.15" fill="#34aa4a"/>
<circle cx="352.1" cy="328.86" r="2.15" fill="#34aa4a"/>
<circle cx="352.1" cy="328.18" r="2.15" fill="#34aa4a"/>
<circle cx="352.1" cy="334.95" r="2.15" fill="#34aa4a"/>
<circle cx="352.1" cy="311.92" r="2.15" fill="#34aa4a"/>
<path d="M255.4,253.6 V249.6 H288.2 V253.6" fill="none" stroke="#555" stroke-width="1"/>
<circle cx="268.15" cy="246" r="0.85" fill="#222"/>
<circle cx="270.85" cy="246" r="0.85" fill="#222"/>
<circle cx="273.55" cy="246" r="0.85" fill="#222"/>
<circle cx="276.25" cy="246" r="0.85" fill="#222"/>
<path d="M319.2,253.4 V249.4 H352.4 V253.4" fill="none" stroke="#555" stroke-width="1"/>
<text transform="translate(335.4,247.1) scale(0.9524,1)" x="0" y="0" font-size="7.35" text-anchor="middle" fill="#231f20" font-weight="normal" stroke="#231f20" stroke-width="0.05">ns</text>
<text transform="translate(255.8,373.9) scale(0.9524,1)" x="0" y="0" font-size="7.56" text-anchor="middle" fill="#231f20" font-weight="normal" stroke="#231f20" stroke-width="0.05">DMSO</text>
<text transform="translate(288.2,373.9) scale(0.9524,1)" x="0" y="0" font-size="7.56" text-anchor="middle" fill="#231f20" font-weight="normal" stroke="#231f20" stroke-width="0.05">Ibr</text>
<text transform="translate(320.2,373.9) scale(0.9524,1)" x="0" y="0" font-size="7.56" text-anchor="middle" fill="#231f20" font-weight="normal" stroke="#231f20" stroke-width="0.05">DMSO</text>
<text transform="translate(352.3,373.9) scale(0.9524,1)" x="0" y="0" font-size="7.56" text-anchor="middle" fill="#231f20" font-weight="normal" stroke="#231f20" stroke-width="0.05">Ven</text>
<text transform="translate(395,211.6) scale(0.9259,1)" x="0" y="0" font-size="12.96" text-anchor="start" fill="#000" font-weight="bold">F</text>
<text transform="translate(409,290) rotate(-90)" x="0" y="0" font-size="8.4" text-anchor="middle" fill="#231f20" font-weight="normal" stroke="#231f20" stroke-width="0.05" textLength="29.3" lengthAdjust="spacingAndGlyphs">% Change</text>
<rect x="446.4" y="241.8" width="23.7" height="37.2" fill="#f38b02"/>
<rect x="470.9" y="313.5" width="23.2" height="21.5" fill="#34aa4a"/>
<line x1="458.2" y1="233" x2="458.2" y2="241.8" stroke="#333" stroke-width="1.1" />
<line x1="458.2" y1="279" x2="458.2" y2="295.5" stroke="#333" stroke-width="1.1" />
<line x1="452.6" y1="233" x2="463.5" y2="233" stroke="#333" stroke-width="1.1" />
<line x1="452.6" y1="295.5" x2="463.5" y2="295.5" stroke="#333" stroke-width="1.1" />
<line x1="446.4" y1="262" x2="470.1" y2="262" stroke="#3a2200" stroke-width="1.5" />
<line x1="482.6" y1="275.8" x2="482.6" y2="313.5" stroke="#333" stroke-width="1.1" />
<line x1="482.6" y1="335" x2="482.6" y2="348.3" stroke="#333" stroke-width="1.1" />
<line x1="477.7" y1="275.8" x2="487.7" y2="275.8" stroke="#333" stroke-width="1.1" />
<line x1="477.7" y1="348.3" x2="487.7" y2="348.3" stroke="#333" stroke-width="1.1" />
<line x1="470.9" y1="327.3" x2="494.1" y2="327.3" stroke="#0d2a12" stroke-width="1.5" />
<line x1="437.5" y1="333.2" x2="470.5" y2="333.2" stroke="#333" stroke-width="1" stroke-dasharray="1.6 3.1"/>
<line x1="433.8" y1="219.2" x2="433.8" y2="361.45" stroke="#161616" stroke-width="1.3" />
<line x1="430.8" y1="360.8" x2="433.8" y2="360.8" stroke="#231f20" stroke-width="1.1" />
<text transform="translate(427.2,363.3) scale(1.0000,1)" x="0" y="0" font-size="7" text-anchor="end" fill="#231f20" font-weight="normal" stroke="#231f20" stroke-width="0.08">−50</text>
<line x1="430.8" y1="333.2" x2="433.8" y2="333.2" stroke="#231f20" stroke-width="1.1" />
<text transform="translate(427.2,335.7) scale(1.0000,1)" x="0" y="0" font-size="7" text-anchor="end" fill="#231f20" font-weight="normal" stroke="#231f20" stroke-width="0.08">0</text>
<line x1="430.8" y1="305.6" x2="433.8" y2="305.6" stroke="#231f20" stroke-width="1.1" />
<text transform="translate(427.2,308.1) scale(1.0000,1)" x="0" y="0" font-size="7" text-anchor="end" fill="#231f20" font-weight="normal" stroke="#231f20" stroke-width="0.08">50</text>
<line x1="430.8" y1="278" x2="433.8" y2="278" stroke="#231f20" stroke-width="1.1" />
<text transform="translate(427.2,280.5) scale(1.0000,1)" x="0" y="0" font-size="7" text-anchor="end" fill="#231f20" font-weight="normal" stroke="#231f20" stroke-width="0.08">100</text>
<line x1="430.8" y1="250.4" x2="433.8" y2="250.4" stroke="#231f20" stroke-width="1.1" />
<text transform="translate(427.2,252.9) scale(1.0000,1)" x="0" y="0" font-size="7" text-anchor="end" fill="#231f20" font-weight="normal" stroke="#231f20" stroke-width="0.08">150</text>
<line x1="430.8" y1="222.8" x2="433.8" y2="222.8" stroke="#231f20" stroke-width="1.1" />
<text transform="translate(427.2,225.3) scale(1.0000,1)" x="0" y="0" font-size="7" text-anchor="end" fill="#231f20" font-weight="normal" stroke="#231f20" stroke-width="0.08">200</text>
<line x1="433.15" y1="360.8" x2="499" y2="360.8" stroke="#161616" stroke-width="1.3" />
<line x1="458.2" y1="360.8" x2="458.2" y2="364.2" stroke="#231f20" stroke-width="1.1" />
<line x1="482.6" y1="360.8" x2="482.6" y2="364.2" stroke="#231f20" stroke-width="1.1" />
<path d="M458.3,229 V225 H480.5 V229" fill="none" stroke="#555" stroke-width="1"/>
<circle cx="469.6" cy="221.3" r="0.85" fill="#222"/>
<text transform="translate(458,373.8) scale(0.9524,1)" x="0" y="0" font-size="7.56" text-anchor="middle" fill="#231f20" font-weight="normal" stroke="#231f20" stroke-width="0.05">Ibr</text>
<text transform="translate(482,373.8) scale(0.9524,1)" x="0" y="0" font-size="7.56" text-anchor="middle" fill="#231f20" font-weight="normal" stroke="#231f20" stroke-width="0.05">Ven</text>
<text transform="translate(73.4,411.7) scale(0.9259,1)" x="0" y="0" font-size="12.96" text-anchor="start" fill="#000" font-weight="bold">G</text>
<text transform="translate(234.8,412.1) scale(1.0000,1)" x="0" y="0" font-size="9.2" text-anchor="middle" fill="#231f20" font-weight="normal">CIC vs Outside Cells</text>
<text transform="translate(100.2,489.6) rotate(-90)" x="0" y="0" font-size="8.4" text-anchor="middle" fill="#231f20" font-weight="normal" stroke="#231f20" stroke-width="0.05" textLength="39.6" lengthAdjust="spacingAndGlyphs">Apoptosis (%)</text>
<rect x="135.1" y="551.51" width="23.9" height="9.29" fill="#12548f"/>
<rect x="160" y="543.1" width="23.9" height="17.7" fill="#f38b02"/>
<line x1="147.1" y1="542.4" x2="147.1" y2="551.51" stroke="#444" stroke-width="1.1" />
<line x1="143.8" y1="542.4" x2="150.4" y2="542.4" stroke="#444" stroke-width="1.1" />
<line x1="171.9" y1="527.5" x2="171.9" y2="543.1" stroke="#444" stroke-width="1.1" />
<line x1="168.4" y1="527.5" x2="175.4" y2="527.5" stroke="#444" stroke-width="1.1" />
<rect x="210.3" y="549.58" width="23.9" height="11.22" fill="#12548f"/>
<rect x="235.2" y="503.14" width="23.9" height="57.66" fill="#f38b02"/>
<line x1="222.3" y1="539.59" x2="222.3" y2="549.58" stroke="#444" stroke-width="1.1" />
<line x1="219" y1="539.59" x2="225.6" y2="539.59" stroke="#444" stroke-width="1.1" />
<line x1="247.1" y1="470.9" x2="247.1" y2="503.14" stroke="#444" stroke-width="1.1" />
<line x1="243.6" y1="470.9" x2="250.6" y2="470.9" stroke="#444" stroke-width="1.1" />
<rect x="285.6" y="549.23" width="23.9" height="11.57" fill="#12548f"/>
<rect x="310.5" y="482.64" width="23.9" height="78.16" fill="#f38b02"/>
<line x1="297.6" y1="539.59" x2="297.6" y2="549.23" stroke="#444" stroke-width="1.1" />
<line x1="294.3" y1="539.59" x2="300.9" y2="539.59" stroke="#444" stroke-width="1.1" />
<line x1="322.4" y1="451.44" x2="322.4" y2="482.64" stroke="#444" stroke-width="1.1" />
<line x1="318.9" y1="451.44" x2="325.9" y2="451.44" stroke="#444" stroke-width="1.1" />
<line x1="121.9" y1="417.6" x2="121.9" y2="561.45" stroke="#161616" stroke-width="1.3" />
<line x1="118.9" y1="560.8" x2="121.9" y2="560.8" stroke="#231f20" stroke-width="1.1" />
<text transform="translate(115.5,563.3) scale(1.0000,1)" x="0" y="0" font-size="7" text-anchor="end" fill="#231f20" font-weight="normal" stroke="#231f20" stroke-width="0.08">0</text>
<line x1="118.9" y1="525.75" x2="121.9" y2="525.75" stroke="#231f20" stroke-width="1.1" />
<text transform="translate(115.5,528.25) scale(1.0000,1)" x="0" y="0" font-size="7" text-anchor="end" fill="#231f20" font-weight="normal" stroke="#231f20" stroke-width="0.08">20</text>
<line x1="118.9" y1="490.7" x2="121.9" y2="490.7" stroke="#231f20" stroke-width="1.1" />
<text transform="translate(115.5,493.2) scale(1.0000,1)" x="0" y="0" font-size="7" text-anchor="end" fill="#231f20" font-weight="normal" stroke="#231f20" stroke-width="0.08">40</text>
<line x1="118.9" y1="455.65" x2="121.9" y2="455.65" stroke="#231f20" stroke-width="1.1" />
<text transform="translate(115.5,458.15) scale(1.0000,1)" x="0" y="0" font-size="7" text-anchor="end" fill="#231f20" font-weight="normal" stroke="#231f20" stroke-width="0.08">60</text>
<line x1="118.9" y1="420.6" x2="121.9" y2="420.6" stroke="#231f20" stroke-width="1.1" />
<text transform="translate(115.5,423.1) scale(1.0000,1)" x="0" y="0" font-size="7" text-anchor="end" fill="#231f20" font-weight="normal" stroke="#231f20" stroke-width="0.08">80</text>
<line x1="121.25" y1="560.8" x2="346.8" y2="560.8" stroke="#161616" stroke-width="1.3" />
<line x1="159.5" y1="560.8" x2="159.5" y2="564.2" stroke="#231f20" stroke-width="1.1" />
<line x1="234.7" y1="560.8" x2="234.7" y2="564.2" stroke="#231f20" stroke-width="1.1" />
<line x1="310" y1="560.8" x2="310" y2="564.2" stroke="#231f20" stroke-width="1.1" />
<path d="M146.4,525 V521 H172.6 V525" fill="none" stroke="#555" stroke-width="1"/>
<path d="M222,468.9 V465 H248 V468.9" fill="none" stroke="#555" stroke-width="1"/>
<circle cx="235" cy="461.2" r="0.85" fill="#222"/>
<path d="M297.4,449.6 V446 H323.5 V449.6" fill="none" stroke="#555" stroke-width="1"/>
<circle cx="308.5" cy="442.7" r="0.85" fill="#222"/>
<circle cx="311.5" cy="442.7" r="0.85" fill="#222"/>
<text transform="translate(159.5,574.4) scale(0.9524,1)" x="0" y="0" font-size="7.35" text-anchor="middle" fill="#231f20" font-weight="normal" stroke="#231f20" stroke-width="0.05">Ibr 400nM</text>
<text transform="translate(234.6,574.4) scale(0.9524,1)" x="0" y="0" font-size="7.35" text-anchor="middle" fill="#231f20" font-weight="normal" stroke="#231f20" stroke-width="0.05">Ven 200nM</text>
<text transform="translate(309.5,574.4) scale(0.9524,1)" x="0" y="0" font-size="7.35" text-anchor="middle" fill="#231f20" font-weight="normal" stroke="#231f20" stroke-width="0.05">Ibr+Ven</text>
<rect x="384.8" y="480" width="13.1" height="7.1" fill="#12548f"/>
<rect x="384.8" y="491.5" width="13.1" height="6.5" fill="#f38b02"/>
<text transform="translate(401.1,486.4) scale(0.9524,1)" x="0" y="0" font-size="7.56" text-anchor="start" fill="#231f20" font-weight="normal" stroke="#231f20" stroke-width="0.05">Inside BMF</text>
<text transform="translate(401.1,497.5) scale(0.9524,1)" x="0" y="0" font-size="7.56" text-anchor="start" fill="#231f20" font-weight="normal" stroke="#231f20" stroke-width="0.05">Outside BMF</text>
</svg>
<div class="frame"></div>
</body></html>
